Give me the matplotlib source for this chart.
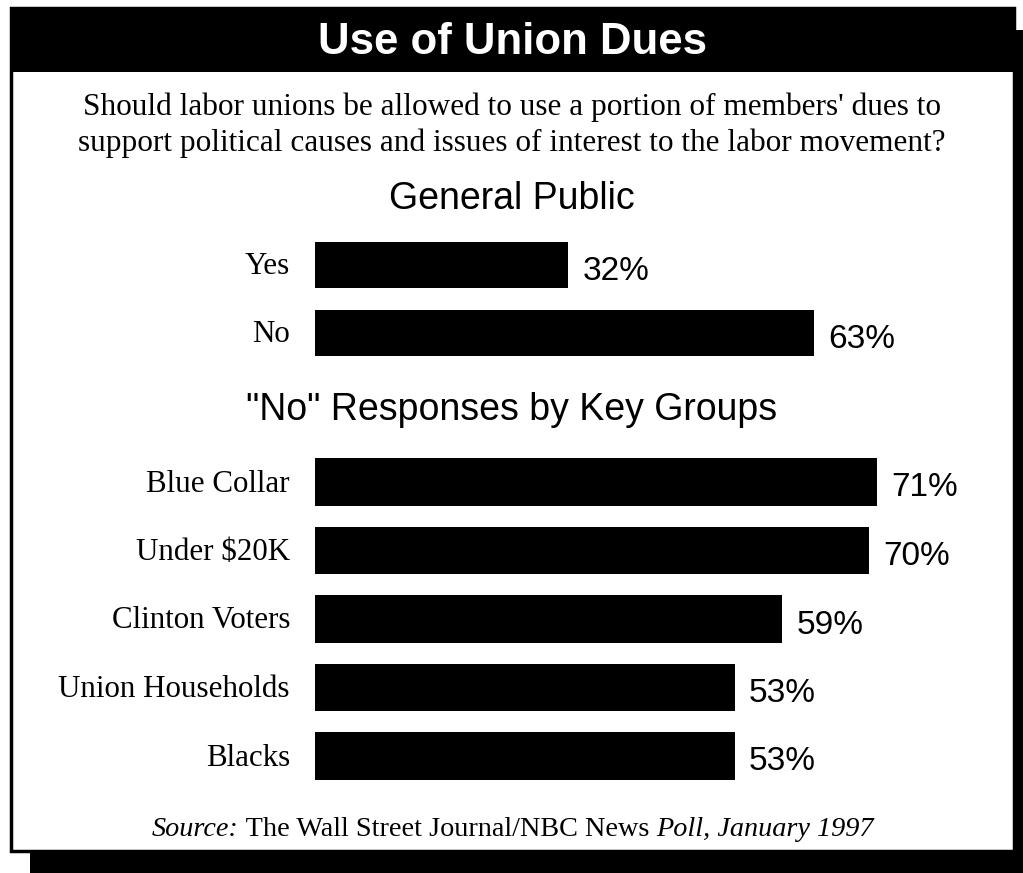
import matplotlib.pyplot as plt
from matplotlib.patches import Rectangle

# data
public_labels = ["Yes", "No"]
public_values = [32, 63]
group_labels = ["Blue Collar", "Under $20K", "Clinton Voters", "Union Households", "Blacks"]
group_values = [71, 70, 59, 53, 53]

title = "Use of Union Dues"
question = ("Should labor unions be allowed to use a portion of members' dues to\n"
            "support political causes and issues of interest to the labor movement?")
sub1 = "General Public"
sub2 = "\"No\" Responses by Key Groups"

W, H = 1023, 873
SERIF = "Liberation Serif"
SANS = "Liberation Sans"

fig = plt.figure(figsize=(W / 100, H / 100), dpi=100)

# background axes in pixel coordinates (frame, shadow, title bar, texts)
bg = fig.add_axes([0, 0, 1, 1])
bg.set_xlim(0, W)
bg.set_ylim(H, 0)
bg.axis("off")
bg.add_patch(Rectangle((30, 30), W - 30, H - 30, facecolor="black", edgecolor="none"))
bg.add_patch(Rectangle((11, 8), 1003, 843, facecolor="white", edgecolor="black", linewidth=2.5))
bg.add_patch(Rectangle((11, 8), 1005, 64, facecolor="black", edgecolor="none"))

bg.text(512, 42, title, color="white", fontsize=31.5, fontweight="bold", family=SANS,
        ha="center", va="center")
bg.text(512, 125, question, fontsize=22.5, family=SERIF, ha="center", va="center",
        linespacing=1.3)
bg.text(512, 199, sub1, fontsize=27, family=SANS, ha="center", va="center")
bg.text(512, 410, sub2, fontsize=27, family=SANS, ha="center", va="center")

# source line with mixed italic / roman pieces
pieces = [("Source:", "italic"), (" The Wall Street Journal/NBC News ", "normal"),
          ("Poll, January 1997", "italic")]
t = bg.text(152, 830, pieces[0][0], fontsize=20.3, family=SERIF, style=pieces[0][1],
            ha="left", va="center")
for txt, st in pieces[1:]:
    t = bg.annotate(txt, xy=(1, 0), xycoords=t, xytext=(0, 0), textcoords="offset points",
                    fontsize=20.3, family=SERIF, style=st, ha="left", va="bottom")

# bar axes: x scale 7.92 px per percent, bars start at x=315 px
PX = 7.92
x0 = 315
xmax = (W - 20 - x0) / PX


def bar_axes(top_px, bottom_px, labels, values):
    ax = fig.add_axes([x0 / W, 1 - bottom_px / H, (W - 20 - x0) / W, (bottom_px - top_px) / H])
    ax.set_facecolor("none")
    pos = list(range(len(values)))
    ax.barh(pos, values, height=0.69, color="black")
    ax.set_xlim(0, xmax)
    ax.set_ylim(len(values) - 0.5, -0.5)
    ax.axis("off")
    for p, lab, v in zip(pos, labels, values):
        ax.annotate(lab, xy=(0, p), xytext=(-25, -2), textcoords="offset pixels",
                    ha="right", va="center", fontsize=22.3, family=SERIF)
        ax.annotate(f"{v}%", xy=(v, p), xytext=(14, -6), textcoords="offset pixels",
                    ha="left", va="center", fontsize=24, family=SANS)
    return ax


bar_axes(231, 367, public_labels, public_values)
bar_axes(447.75, 790.25, group_labels, group_values)

fig.savefig("out.png", dpi=100)
